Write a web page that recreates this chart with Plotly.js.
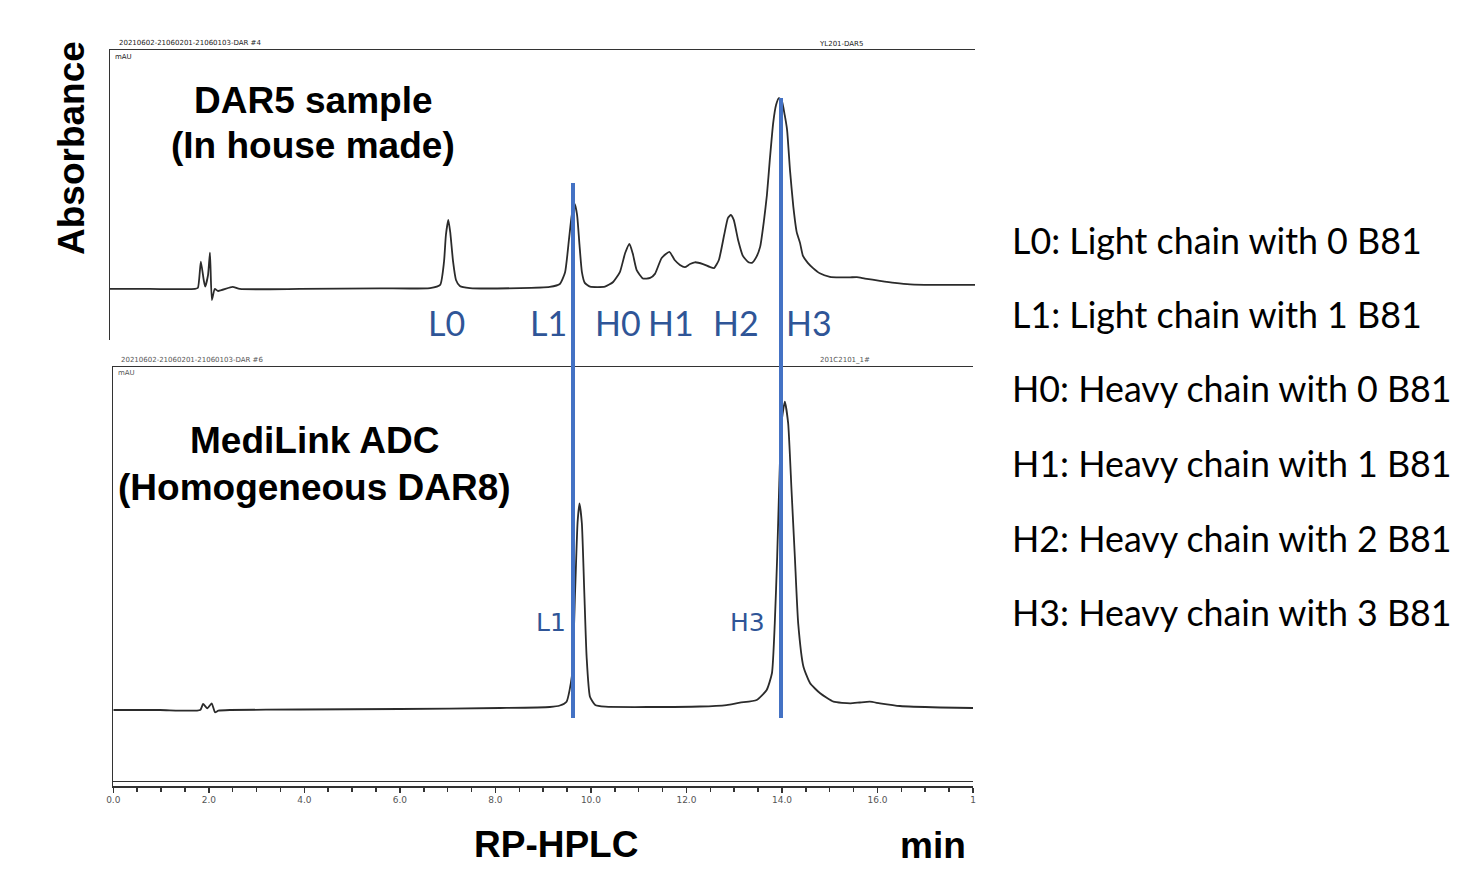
<!DOCTYPE html>
<html>
<head>
<meta charset="utf-8">
<script src="https://cdn.plot.ly/plotly-3.0.1.min.js"></script>
<style>
html,body{margin:0;padding:0;background:#fff;}
#chart{width:1462px;height:869px;}
</style>
</head>
<body>
<div id="chart"></div>
<script>
// ---------- DATA ----------
// Top chromatogram: DAR5 sample (in house made)
const dar5Time = [0.00,0.83,1.77,1.83,1.89,1.95,1.98,2.04,2.08,2.12,2.18,2.25,2.55,2.70,3.95,5.62,6.66,6.87,6.95,6.99,7.04,7.08,7.14,7.20,7.28,7.49,8.53,9.15,9.36,9.47,9.55,9.61,9.67,9.72,9.77,9.82,9.88,9.99,10.30,10.47,10.61,10.72,10.81,10.88,10.96,11.09,11.24,11.34,11.48,11.64,11.75,11.86,11.96,12.07,12.17,12.34,12.48,12.57,12.67,12.78,12.86,12.92,12.98,13.07,13.17,13.28,13.36,13.44,13.53,13.61,13.67,13.73,13.80,13.86,13.92,13.98,14.04,14.09,14.15,14.22,14.29,14.36,14.42,14.52,14.63,14.77,14.98,15.19,15.40,15.54,15.71,16.02,16.33,16.65,17.27,18.00];
const dar5Abs  = [17.6,17.6,17.6,18.0,27.0,20.7,18.4,22.4,30.1,13.8,17.6,16.9,18.3,17.6,17.6,17.8,17.9,19.0,26.9,36.2,41.4,37.2,26.9,20.7,18.6,17.9,17.9,18.3,19.3,23.4,34.5,43.1,46.9,43.1,32.8,23.4,19.7,18.4,18.4,20.0,23.4,30.0,33.1,29.7,24.1,21.2,21.4,22.8,28.3,30.4,27.6,25.9,25.1,26.2,26.8,26.2,25.2,24.8,27.6,36.2,42.1,43.1,41.4,34.5,29.0,26.9,26.6,28.3,32.2,41.4,50.0,62.1,74.8,81.0,83.4,82.4,77.6,72.4,58.6,45.9,37.2,33.4,29.0,26.6,24.8,23.0,21.8,21.6,21.6,21.7,21.2,20.4,19.7,19.2,19.0,19.0];

// Bottom chromatogram: MediLink ADC (homogeneous DAR8)
const dar8Time = [0.00,0.98,1.82,1.88,1.97,2.06,2.13,2.20,2.44,3.91,6.00,8.10,9.14,9.35,9.49,9.60,9.67,9.72,9.76,9.81,9.86,9.91,9.98,10.09,10.30,11.24,12.28,12.84,13.12,13.47,13.68,13.79,13.85,13.90,13.94,13.99,14.06,14.13,14.20,14.27,14.34,14.45,14.59,14.80,15.08,15.43,15.63,15.84,16.05,16.47,17.31,18.00];
const dar8Abs  = [17.32,17.32,17.32,18.77,17.73,18.93,16.77,17.15,17.32,17.44,17.56,17.80,18.04,18.40,19.32,25.35,46.25,62.40,67.15,62.40,46.25,30.17,20.53,18.52,18.11,18.04,18.16,18.52,19.08,19.73,22.14,26.17,38.29,54.27,70.35,86.50,91.64,86.43,70.35,54.27,38.22,27.76,23.76,21.35,19.32,18.93,19.13,19.32,18.93,18.28,17.92,17.80];

// Retention-time markers (L1, H3) in minutes
const markerTimes = [9.625, 13.98];

// Axis ticks
const tickValues = [0,2,4,6,8,10,12,14,16,18];
const tickLabels = ['0.0','2.0','4.0','6.0','8.0','10.0','12.0','14.0','16.0','1'];

// Peak labels
const topPeakLabels = ['L0','L1','H0','H1','H2','H3'];
const bottomPeakLabels = ['L1','H3'];

// Panel titles
const topTitle = ['DAR5 sample', '(In house made)'];
const bottomTitle = ['MediLink ADC', '(Homogeneous DAR8)'];

// Legend descriptions
const legendLines = [
  'L0: Light chain with 0 B81',
  'L1: Light chain with 1 B81',
  'H0: Heavy chain with 0 B81',
  'H1: Heavy chain with 1 B81',
  'H2: Heavy chain with 2 B81',
  'H3: Heavy chain with 3 B81'
];

// ---------- STYLE / LAYOUT ----------
const W = 1462, H = 869;
const px = v => v / W;
const py = v => 1 - v / H;

const lineColor = '#2b2b2b';
const frameColor = '#333333';
const blue = '#4472C4';
const labelBlue = '#2F5597';

const traces = [
  {x: dar8Time, y: dar8Abs, xaxis: 'x', yaxis: 'y', type: 'scatter', mode: 'lines',
   line: {color: lineColor, width: 1.8, shape: 'spline', smoothing: 0.5}, hoverinfo: 'skip'},
  {x: dar5Time, y: dar5Abs, xaxis: 'x2', yaxis: 'y2', type: 'scatter', mode: 'lines',
   line: {color: lineColor, width: 1.8, shape: 'spline', smoothing: 0.5}, hoverinfo: 'skip'}
];

const annotations = [];
function addText(text, x, y, font, extra) {
  annotations.push(Object.assign({text: text, x: x, y: y, xref: 'paper', yref: 'paper',
    showarrow: false, font: font, xanchor: 'center', yanchor: 'middle'}, extra || {}));
}
const boldFont = (size) => ({family: 'Liberation Sans, Arial, sans-serif', size: size, color: '#000', weight: 'bold'});

addText('<b>Absorbance</b>', px(72), py(148), boldFont(37), {textangle: -90});
addText('<b>' + topTitle[0] + '</b>', px(313), py(100), boldFont(37));
addText('<b>' + topTitle[1] + '</b>', px(313), py(145), boldFont(37));
addText('<b>' + bottomTitle[0] + '</b>', px(314), py(440), boldFont(37));
addText('<b>' + bottomTitle[1] + '</b>', px(314), py(487), boldFont(37));
addText('<b>RP-HPLC</b>', px(556), py(844), boldFont(37));
addText('<b>min</b>', px(933), py(845), boldFont(37));

const topLabelX = [446, 548, 618, 671, 736, 809];
topPeakLabels.forEach((t, i) => addText(t, px(topLabelX[i]), py(323),
  {family: 'Lato, Noto Sans, sans-serif', size: 34, color: labelBlue}));
const bottomLabelX = [551, 747];
bottomPeakLabels.forEach((t, i) => addText(t, px(bottomLabelX[i]), py(622),
  {family: 'DejaVu Sans, Verdana, sans-serif', size: 25, color: labelBlue}));

const legendY = [240, 314, 389, 463, 538, 612];
legendLines.forEach((t, i) => addText(t, px(1010), py(legendY[i]),
  {family: 'Lato, Noto Sans, sans-serif', size: 35.8, color: '#000'}, {xanchor: 'left'}));

const tinyFont = {family: 'DejaVu Sans, sans-serif', size: 7, color: '#222'};
addText('20210602-21060201-21060103-DAR #4', px(117), py(43), tinyFont, {xanchor: 'left'});
addText('YL201-DAR5', px(841), py(44), tinyFont);
addText('mAU', px(113), py(57), tinyFont, {xanchor: 'left'});
addText('20210602-21060201-21060103-DAR #6', px(119), py(360), {family: 'DejaVu Sans, sans-serif', size: 7, color: '#555'}, {xanchor: 'left'});
addText('201C2101_1#', px(845), py(360), {family: 'DejaVu Sans, sans-serif', size: 7, color: '#555'});
addText('mAU', px(116), py(373), {family: 'DejaVu Sans, sans-serif', size: 7, color: '#555'}, {xanchor: 'left'});

const shapes = [
  {type: 'line', xref: 'x', yref: 'paper', x0: markerTimes[0], x1: markerTimes[0], y0: py(718), y1: py(183),
   line: {color: blue, width: 4}, layer: 'above'},
  {type: 'line', xref: 'x', yref: 'paper', x0: markerTimes[1], x1: markerTimes[1], y0: py(718), y1: py(98),
   line: {color: blue, width: 4}, layer: 'above'}
];

const layout = {
  width: W, height: H,
  margin: {l: 0, r: 0, t: 0, b: 0, pad: 0},
  paper_bgcolor: '#ffffff', plot_bgcolor: 'rgba(0,0,0,0)',
  showlegend: false,
  xaxis: {
    domain: [px(113.3), px(973)], range: [0, 18], anchor: 'y',
    showline: true, linecolor: frameColor, linewidth: 1.5, mirror: true,
    showgrid: false, zeroline: false,
    tickmode: 'array', tickvals: tickValues, ticktext: tickLabels,
    ticks: 'outside', ticklen: 5, tickwidth: 1.5, tickcolor: frameColor,
    tickfont: {family: 'DejaVu Sans, sans-serif', size: 9, color: '#555'},
    minor: {tickmode: 'linear', tick0: 0, dtick: 0.5, ticks: 'outside', ticklen: 4, tickwidth: 1.5, tickcolor: frameColor, showgrid: false},
    fixedrange: true
  },
  yaxis: {
    domain: [py(786), py(367)], range: [-1, 100], anchor: 'x',
    showline: true, linecolor: frameColor, linewidth: 1.5,
    showgrid: false, showticklabels: false, ticks: '',
    zeroline: true, zerolinecolor: frameColor, zerolinewidth: 1.3,
    fixedrange: true
  },
  xaxis2: {
    domain: [px(110), px(975)], range: [0, 18], anchor: 'y2', side: 'top',
    showline: true, linecolor: frameColor, linewidth: 1.5,
    showgrid: false, zeroline: false, showticklabels: false, ticks: '',
    fixedrange: true
  },
  yaxis2: {
    domain: [py(340), py(50)], range: [0, 100], anchor: 'x2',
    showline: true, linecolor: frameColor, linewidth: 1.5,
    showgrid: false, zeroline: false, showticklabels: false, ticks: '',
    fixedrange: true
  },
  annotations: annotations,
  shapes: shapes
};

Plotly.newPlot('chart', traces, layout, {displayModeBar: false, staticPlot: true});
</script>
</body>
</html>
